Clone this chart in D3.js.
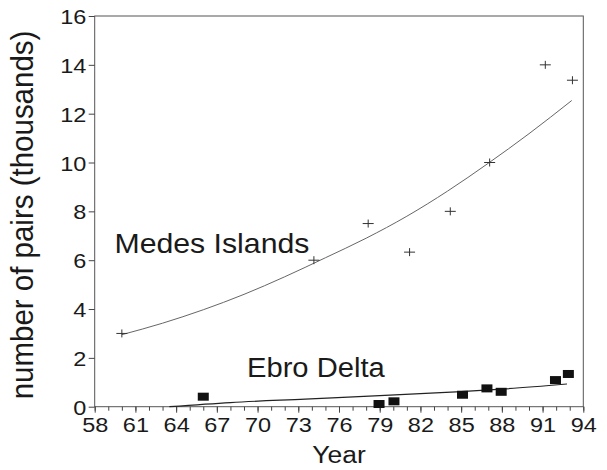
<!DOCTYPE html>
<html><head><meta charset="utf-8">
<script src="https://cdn.jsdelivr.net/npm/d3@7"></script>
<style>body{margin:0;background:#fff}svg{display:block}text{font-family:"Liberation Sans",Arial,sans-serif;fill:#1a1a1a}</style>
</head><body>
<svg id="c" width="607" height="470"></svg>
<script>
// Data
const medesYears  = [60, 74.15, 78.15, 81.2, 84.2, 87.1, 91.2, 93.2];
const medesPairs  = [3.0, 6.0, 7.5, 6.33, 8.0, 10.0, 14.0, 13.37];
const medesFitYears = [60, 63, 66, 69, 72, 75, 78, 81, 84, 87, 90, 93.15];
const medesFitPairs = [2.95, 3.42, 3.97, 4.6, 5.32, 6.1, 6.9, 7.8, 8.83, 9.97, 11.18, 12.54];
const ebroYears   = [66.0, 78.95, 80.05, 85.1, 86.9, 87.95, 91.95, 92.9];
const ebroPairs   = [0.41, 0.11, 0.22, 0.49, 0.75, 0.61, 1.09, 1.34];
const ebroFitYears = [63.5, 68, 73.5, 79, 85, 88, 92.8];
const ebroFitPairs = [0, 0.17, 0.31, 0.45, 0.62, 0.72, 0.93];
const xTickLabels = [58, 61, 64, 67, 70, 73, 76, 79, 82, 85, 88, 91, 94];
const xMinorTicks = d3.range(58, 95, 1);
const yTickLabels = [0, 2, 4, 6, 8, 10, 12, 14, 16];

const svg = d3.select("#c");
const x = d3.scaleLinear().domain([58, 94]).range([94.7, 583.3]);
const y = d3.scaleLinear().domain([0, 16]).range([406.7, 16]);

// frame
svg.append("rect").attr("x", x(58)).attr("y", y(16))
  .attr("width", x(94) - x(58)).attr("height", y(0) - y(16))
  .attr("fill", "none").attr("stroke", "#555").attr("stroke-width", 1);

// minor x ticks
const gMinor = svg.append("g").attr("transform", `translate(0,${y(0)})`)
  .call(d3.axisBottom(x).tickValues(xMinorTicks).tickSize(4).tickFormat(""));
gMinor.select(".domain").remove();
gMinor.selectAll("line").attr("stroke", "#444");

// major x ticks
const gx = svg.append("g").attr("transform", `translate(0,${y(0)})`)
  .call(d3.axisBottom(x).tickValues(xTickLabels).tickSize(6).tickPadding(19).tickFormat(d3.format("d")));
gx.select(".domain").remove();
gx.selectAll("line").attr("stroke", "#444");
gx.selectAll("text").attr("font-size", 21).attr("dy", 0).attr("font-family", "Liberation Sans, Arial, sans-serif")
  .attr("transform", "scale(1.12,1)").attr("fill", "#1a1a1a");

// y axis
const gy = svg.append("g").attr("transform", `translate(${x(58)},0)`)
  .call(d3.axisLeft(y).tickValues(yTickLabels).tickSize(6).tickPadding(1.5).tickFormat(d3.format("d")));
gy.select(".domain").remove();
gy.selectAll("line").attr("stroke", "#444");
gy.selectAll("text").attr("font-size", 21).attr("dy", "0.36em").attr("font-family", "Liberation Sans, Arial, sans-serif")
  .attr("transform", "scale(1.12,1)").attr("fill", "#1a1a1a");

// fit lines
const line = d3.line().curve(d3.curveMonotoneX).x(d => x(d[0])).y(d => y(d[1]));
svg.append("path").datum(medesFitYears.map((v, i) => [v, medesFitPairs[i]]))
  .attr("d", line).attr("fill", "none").attr("stroke", "#666").attr("stroke-width", 1);
svg.append("path").datum(ebroFitYears.map((v, i) => [v, ebroFitPairs[i]]))
  .attr("d", line).attr("fill", "none").attr("stroke", "#222").attr("stroke-width", 1.2);

// Medes markers (+)
const plus = svg.append("g").selectAll("g").data(medesYears.map((v, i) => [v, medesPairs[i]]))
  .join("g").attr("transform", d => `translate(${x(d[0])},${y(d[1])})`);
plus.append("line").attr("x1", -5.5).attr("x2", 5.5).attr("stroke", "#333").attr("stroke-width", 1);
plus.append("line").attr("y1", -4).attr("y2", 4).attr("stroke", "#333").attr("stroke-width", 1);

// Ebro markers (squares)
svg.append("g").selectAll("rect").data(ebroYears.map((v, i) => [v, ebroPairs[i]]))
  .join("rect").attr("x", d => x(d[0]) - 5.5).attr("y", d => y(d[1]) - 4)
  .attr("width", 11).attr("height", 8).attr("fill", "#111");

// labels
svg.append("text").attr("transform", "translate(114.5,253) scale(1.08,1)")
  .attr("font-size", 28).text("Medes Islands");
svg.append("text").attr("transform", "translate(247,377) scale(1.08,1)")
  .attr("font-size", 27).text("Ebro Delta");
svg.append("text").attr("transform", `translate(${(x(58) + x(94)) / 2},463) scale(1.08,1)`)
  .attr("font-size", 24.5).attr("text-anchor", "middle").text("Year");
svg.append("text").attr("transform", "translate(33,215) scale(1.08,1) rotate(-90)")
  .attr("font-size", 29.5).attr("text-anchor", "middle").text("number of pairs (thousands)");
</script>
</body></html>
